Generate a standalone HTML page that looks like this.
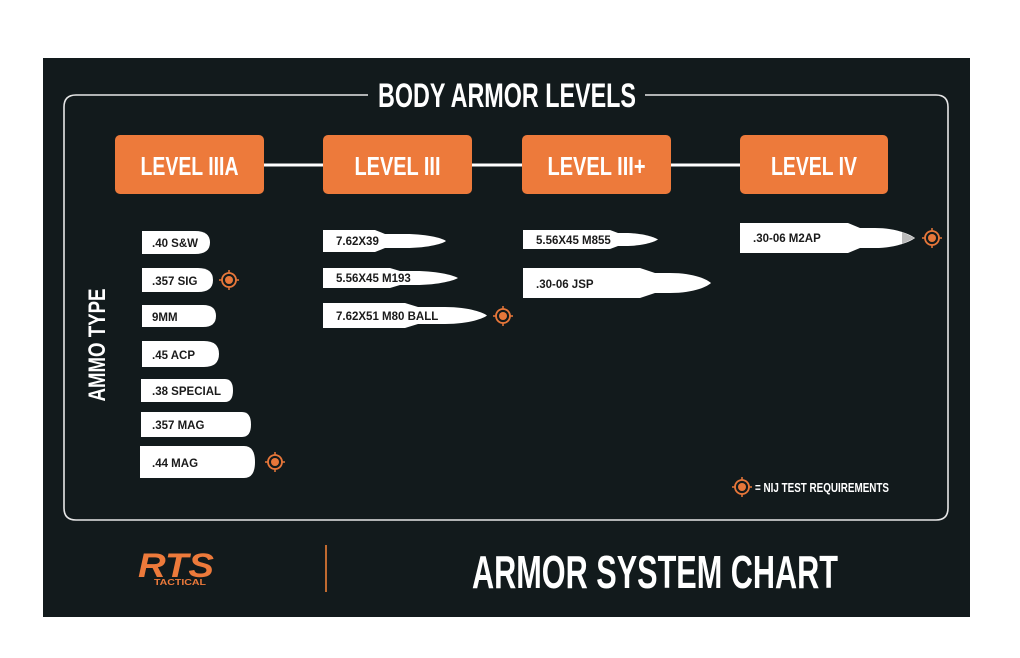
<!DOCTYPE html>
<html><head><meta charset="utf-8"><style>
html,body{margin:0;padding:0;background:#fff;width:1020px;height:658px;overflow:hidden}
svg{display:block}
text{font-family:"Liberation Sans Narrow","Liberation Sans",sans-serif;font-weight:bold}
</style></head><body>
<svg width="1020" height="658" viewBox="0 0 1020 658" xmlns="http://www.w3.org/2000/svg">
<defs>
<g id="tg">
<circle r="7" fill="none" stroke="#e8773a" stroke-width="1.8"/>
<circle r="4" fill="#e8773a"/>
<path d="M0,-10V-7M0,7V10M-10,0H-7M7,0H10" stroke="#e8773a" stroke-width="1.5"/>
</g>
</defs>
<rect x="43" y="58" width="927" height="559" fill="#121a1c"/>
<path d="M368,95 H76 Q64,95 64,107 V508 Q64,520 76,520 H936 Q948,520 948,508 V107 Q948,95 936,95 H645" fill="none" stroke="#e6e6e6" stroke-width="1.6"/>
<text x="507" y="107" text-anchor="middle" fill="#fff" font-size="34" textLength="258" lengthAdjust="spacingAndGlyphs">BODY ARMOR LEVELS</text>
<line x1="264" y1="165" x2="740" y2="165" stroke="#fff" stroke-width="3"/>
<g fill="#ed7a3b">
<rect x="115" y="135" width="149" height="59" rx="5"/>
<rect x="323" y="135" width="149" height="59" rx="5"/>
<rect x="522" y="135" width="149" height="59" rx="5"/>
<rect x="740" y="135" width="148" height="59" rx="5"/>
</g>
<g fill="#fff" font-size="26" text-anchor="middle">
<text x="189.5" y="175" textLength="98" lengthAdjust="spacingAndGlyphs">LEVEL IIIA</text>
<text x="397.5" y="175" textLength="86" lengthAdjust="spacingAndGlyphs">LEVEL III</text>
<text x="596.5" y="175" textLength="98" lengthAdjust="spacingAndGlyphs">LEVEL III+</text>
<text x="814" y="175" textLength="86" lengthAdjust="spacingAndGlyphs">LEVEL IV</text>
</g>
<text transform="translate(105,345) rotate(-90)" text-anchor="middle" fill="#fff" font-size="24" textLength="113" lengthAdjust="spacingAndGlyphs">AMMO TYPE</text>
<g fill="#fff">
<path d="M142,231 H195 Q210,231 210,242.5 Q210,254 195,254 H142 Z"/>
<path d="M142,268 H198 Q213,268 213,280 Q213,292 198,292 H142 Z"/>
<path d="M142,305 H203 Q216,305 216,316 Q216,327 203,327 H142 Z"/>
<path d="M142,341 H204 Q219,341 219,354 Q219,367 204,367 H142 Z"/>
<path d="M141,379 H225 Q233,379 233,390.5 Q233,402 225,402 H141 Z"/>
<path d="M141,412 H242 Q251,412 251,424.5 Q251,437 242,437 H141 Z"/>
<path d="M140,446 H244 Q255,446 255,462 Q255,478 244,478 H140 Z"/>
<path d="M323,230 H375 L385,234 H405 C430,234 444,239 446,241 C444,243 430,248 405,248 H385 L375,252 H323 Z"/>
<path d="M323,268 H390 L400,271 H415 C440,271 455,276 458,278 C455,280 440,285 415,285 H400 L390,288 H323 Z"/>
<path d="M323,303 H405 L418,307 H445 C470,307 484,313 487,315.5 C484,318 470,324 445,324 H418 L405,328 H323 Z"/>
<path d="M523,230 H610 L618,233 H625 C645,233 656,238 658,239.5 C656,241 645,246 625,246 H618 L610,249 H523 Z"/>
<path d="M523,268 H640 L655,273 H670 C695,273 708,280 711,283 C708,286 695,293 670,293 H655 L640,298 H523 Z"/>
<path d="M740,223 H848 L860,228 H875 C895,228 910,234 915,238 C910,242 895,248 875,248 H860 L848,253 H740 Z"/>
</g>
<path d="M902,232 L915,238 L902,244 Z" fill="#bbb"/>
<g fill="#1a1a1a" font-size="11.5">
<text x="152" y="247">.40  S&amp;W</text>
<text x="152" y="285">.357 SIG</text>
<text x="152" y="321">9MM</text>
<text x="152" y="359">.45 ACP</text>
<text x="152" y="395">.38 SPECIAL</text>
<text x="152" y="429">.357 MAG</text>
<text x="152" y="467">.44 MAG</text>
<text x="336" y="245">7.62X39</text>
<text x="336" y="282">5.56X45 M193</text>
<text x="336" y="320">7.62X51 M80 BALL</text>
<text x="536" y="244">5.56X45  M855</text>
<text x="536" y="288">.30-06 JSP</text>
<text x="753" y="242">.30-06 M2AP</text>
</g>
<use href="#tg" x="229" y="280"/>
<use href="#tg" x="275" y="462"/>
<use href="#tg" x="503" y="316"/>
<use href="#tg" x="932" y="238"/>
<use href="#tg" x="742" y="487"/>
<text x="755" y="492" fill="#fff" font-size="12.5" textLength="134" lengthAdjust="spacingAndGlyphs">= NIJ TEST REQUIREMENTS</text>
<text x="176" y="577" text-anchor="middle" fill="#ed7a3b" font-size="34" font-style="italic" textLength="76" lengthAdjust="spacingAndGlyphs">RTS</text>
<text x="180" y="585" text-anchor="middle" fill="#ed7a3b" font-size="8" textLength="52" lengthAdjust="spacingAndGlyphs" font-family="Liberation Sans">TACTICAL</text>
<line x1="326" y1="545" x2="326" y2="592" stroke="#c06a30" stroke-width="2"/>
<text x="655" y="588" text-anchor="middle" fill="#fff" font-size="46" textLength="366" lengthAdjust="spacingAndGlyphs">ARMOR SYSTEM CHART</text>
</svg>
</body></html>
